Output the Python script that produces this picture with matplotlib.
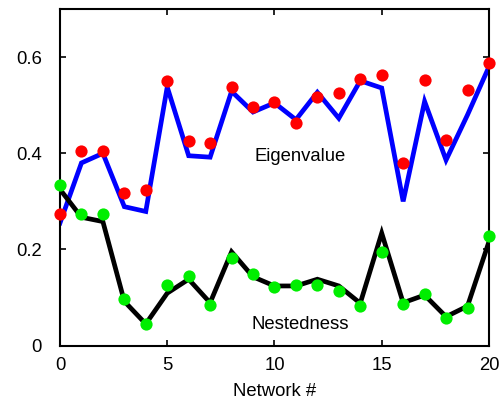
import matplotlib
matplotlib.use("Agg")
import matplotlib.pyplot as plt
import numpy as np

networks = list(range(21))
eig_points = [0.274, 0.404, 0.404, 0.317, 0.324, 0.551, 0.426, 0.422, 0.539, 0.497,
              0.506, 0.464, 0.517, 0.525, 0.555, 0.564, 0.380, 0.552, 0.428, 0.532, 0.589]
eig_line = [0.255, 0.380, 0.400, 0.289, 0.279, 0.538, 0.395, 0.392, 0.529, 0.486,
            0.505, 0.470, 0.527, 0.473, 0.551, 0.536, 0.300, 0.508, 0.386, 0.480, 0.580]
nest_points = [0.334, 0.273, 0.273, 0.097, 0.045, 0.127, 0.145, 0.084, 0.183, 0.148,
               0.121, 0.125, 0.127, 0.114, 0.082, 0.195, 0.086, 0.107, 0.058, 0.079, 0.228]
nest_line = [0.325, 0.267, 0.258, 0.092, 0.045, 0.109, 0.138, 0.089, 0.195, 0.143,
             0.124, 0.124, 0.138, 0.124, 0.088, 0.234, 0.089, 0.105, 0.060, 0.082, 0.216]

plt.rcParams['font.family'] = ['Liberation Sans', 'DejaVu Sans']

fig = plt.figure(figsize=(5.02, 3.99), dpi=100)
ax = fig.add_axes([0.1195, 0.134, 0.8545, 0.843])

ax.plot(networks, eig_line, color='#0000ff', lw=3.4, zorder=2, solid_joinstyle='miter')
ax.plot(networks, nest_line, color='black', lw=3.4, zorder=3, solid_joinstyle='miter')
ax.plot(networks, eig_points, 'o', color='#ff0000', ms=8.8, mec='none', zorder=4, clip_on=False)
ax.plot(networks, nest_points, 'o', color='#00ee00', ms=8.8, mec='none', zorder=5, clip_on=False)

fs = 13.3
ax.text(11.2, 0.393, 'Eigenvalue', ha='center', va='center', fontsize=fs)
ax.text(11.2, 0.043, 'Nestedness', ha='center', va='center', fontsize=fs)

ax.set_xlim(0, 20)
ax.set_ylim(0, 0.7)
ax.set_xticks([0, 5, 10, 15, 20])
ax.set_yticks([0, 0.2, 0.4, 0.6])
ax.set_yticklabels(['0', '0.2', '0.4', '0.6'])
ax.tick_params(direction='in', top=True, right=True, length=4, width=1.2, labelsize=fs)
ax.tick_params(axis='x', pad=8)
ax.tick_params(axis='y', pad=13)
for s in ax.spines.values():
    s.set_linewidth(1.5)
ax.set_xlabel('Network #', fontsize=fs, labelpad=7)

fig.savefig('out.png', dpi=100)
